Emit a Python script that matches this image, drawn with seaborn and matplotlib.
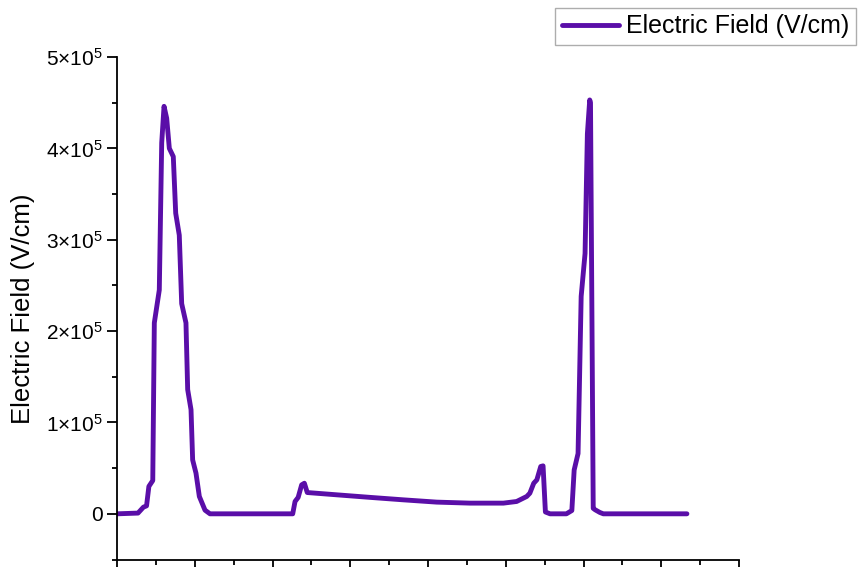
import matplotlib
matplotlib.use("Agg")
import matplotlib.pyplot as plt
from matplotlib.ticker import MultipleLocator, FuncFormatter
import seaborn as sns
import pandas as pd

# ---- data ----
position = [0.00, 0.27, 0.34, 0.38, 0.41, 0.46, 0.48, 0.544, 0.575, 0.605, 0.639, 0.673,
            0.724, 0.755, 0.801, 0.832, 0.887, 0.909, 0.952, 0.973, 1.016, 1.059, 1.132,
            1.196, 2.26, 2.29, 2.33, 2.375, 2.41, 2.447, 2.826, 3.254, 3.683, 4.112,
            4.54, 4.97, 5.14, 5.27, 5.31, 5.36, 5.40, 5.45, 5.48, 5.51, 5.57, 5.78,
            5.85, 5.88, 5.93, 5.97, 6.02, 6.05, 6.08, 6.09, 6.125, 6.15, 6.21, 6.255, 7.33]
field = [0.0, 0.008e5, 0.073e5, 0.087e5, 0.30e5, 0.364e5, 2.09e5, 2.45e5, 4.06e5, 4.46e5,
         4.33e5, 4.00e5, 3.91e5, 3.29e5, 3.05e5, 2.30e5, 2.09e5, 1.36e5, 1.14e5, 0.59e5,
         0.445e5, 0.19e5, 0.04e5, 0.0, 0.0, 0.135e5, 0.18e5, 0.317e5, 0.335e5, 0.233e5,
         0.208e5, 0.18e5, 0.153e5, 0.128e5, 0.117e5, 0.117e5, 0.135e5, 0.19e5, 0.226e5,
         0.335e5, 0.372e5, 0.518e5, 0.525e5, 0.02e5, 0.0, 0.0, 0.036e5, 0.48e5, 0.66e5,
         2.38e5, 2.85e5, 4.16e5, 4.53e5, 4.50e5, 0.06e5, 0.044e5, 0.015e5, 0.0, 0.0]
series_label = "Electric Field (V/cm)"
y_label = "Electric Field (V/cm)"

df = pd.DataFrame({"x": position, "y": field})

sns.set_theme(style="white")
plt.rcParams["font.family"] = ["Liberation Sans", "DejaVu Sans"]
plt.rcParams["mathtext.fontset"] = "custom"
plt.rcParams["mathtext.rm"] = "Liberation Sans"
plt.rcParams["mathtext.it"] = "Liberation Sans:italic"
plt.rcParams["mathtext.bf"] = "Liberation Sans:bold"
plt.rcParams["text.color"] = "black"
plt.rcParams["axes.labelcolor"] = "black"
plt.rcParams["xtick.color"] = "black"
plt.rcParams["ytick.color"] = "black"

fig = plt.figure(figsize=(8.58, 5.67), dpi=100)
ax = fig.add_axes([117 / 858, 7.5 / 567, (739 - 117) / 858, (559.5 - 57) / 567])

sns.lineplot(data=df, x="x", y="y", ax=ax, color="#5a0ea8", linewidth=3.5,
             estimator=None, sort=False, label=series_label)

ax.set_xlim(0, 8)
ax.set_ylim(-0.5e5, 5e5)
ax.xaxis.set_major_locator(MultipleLocator(1))
ax.xaxis.set_minor_locator(MultipleLocator(0.5))
ax.yaxis.set_major_locator(MultipleLocator(1e5))
ax.yaxis.set_minor_locator(MultipleLocator(0.5e5))


def fmt(v, pos):
    n = int(round(v / 1e5))
    if n == 0:
        return "0"
    return r"$%d{\times}10^{5}$" % n


ax.yaxis.set_major_formatter(FuncFormatter(fmt))
ax.tick_params(axis="both", which="major", direction="out", length=7, width=1.3,
               color="black", labelsize=15, pad=3, labelcolor="black")
ax.tick_params(axis="both", which="minor", direction="out", length=3.5, width=1.3,
               color="black")
ax.tick_params(axis="x", which="both", labelbottom=False, bottom=True)
ax.tick_params(axis="y", which="both", left=True)

for s in ["top", "right"]:
    ax.spines[s].set_visible(False)
for s in ["left", "bottom"]:
    ax.spines[s].set_color("black")
    ax.spines[s].set_linewidth(1.3)

ax.set_xlabel("")
ax.set_ylabel(y_label, fontsize=18.5, labelpad=8, color="black")

leg = ax.legend(loc="upper right", bbox_to_anchor=(856 / 858, 1 - 8 / 567),
                bbox_transform=fig.transFigure, fontsize=18, frameon=True,
                fancybox=False, borderaxespad=0, borderpad=0.25,
                handlelength=2.3, handletextpad=0.3)
leg.get_frame().set_edgecolor("#999999")
leg.get_frame().set_linewidth(1.0)
for t in leg.get_texts():
    t.set_color("black")

fig.savefig("out.png", dpi=100)
